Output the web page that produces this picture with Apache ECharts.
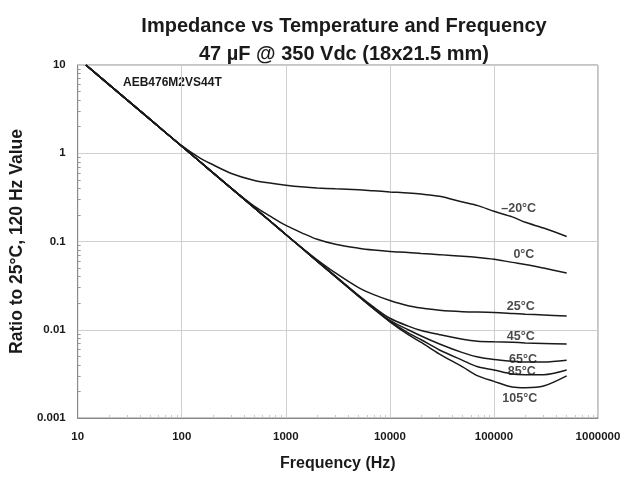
<!DOCTYPE html>
<html><head><meta charset="utf-8">
<script src="https://cdn.jsdelivr.net/npm/echarts@6/dist/echarts.min.js"></script>
<style>html,body{margin:0;padding:0;background:#fff}#c{width:642px;height:477px}</style>
</head><body><div id="c"></div>
<script>
const freq = [12, 20, 50, 100, 150, 200, 300, 500, 700, 1000, 1500, 2000, 3000, 5000, 7000, 10000, 15000, 20000, 30000, 50000, 70000, 100000, 150000, 200000, 300000, 500000];
const tempNames = ['–20°C', '0°C', '25°C', '45°C', '65°C', '85°C', '105°C'];
const vM20 = [10, 6.0, 2.4, 1.22, 0.88, 0.74, 0.59, 0.49, 0.46, 0.435, 0.415, 0.405, 0.395, 0.385, 0.375, 0.365, 0.355, 0.345, 0.325, 0.28, 0.255, 0.22, 0.19, 0.165, 0.142, 0.114];
const v0 = [10, 6.0, 2.4, 1.2, 0.8, 0.6, 0.4, 0.25, 0.195, 0.152, 0.122, 0.106, 0.093, 0.084, 0.08, 0.077, 0.075, 0.073, 0.071, 0.068, 0.066, 0.063, 0.058, 0.055, 0.05, 0.044];
const v25 = [10, 6.0, 2.4, 1.2, 0.8, 0.6, 0.4, 0.24, 0.172, 0.12, 0.081, 0.062, 0.044, 0.03, 0.025, 0.0215, 0.0187, 0.0176, 0.0166, 0.016, 0.0159, 0.0157, 0.0153, 0.015, 0.0147, 0.0143];
const v45 = [10, 6.0, 2.4, 1.2, 0.8, 0.6, 0.4, 0.24, 0.172, 0.12, 0.08, 0.06, 0.0405, 0.0245, 0.018, 0.0135, 0.011, 0.0098, 0.0088, 0.0078, 0.0074, 0.0073, 0.0072, 0.0071, 0.007, 0.0069];
const v65 = [10, 6.0, 2.4, 1.2, 0.8, 0.6, 0.4, 0.24, 0.172, 0.12, 0.08, 0.06, 0.04, 0.024, 0.0174, 0.0128, 0.01, 0.0085, 0.0069, 0.0055, 0.0049, 0.0046, 0.0044, 0.0043, 0.0043, 0.0045];
const v85 = [10, 6.0, 2.4, 1.2, 0.8, 0.6, 0.4, 0.24, 0.172, 0.12, 0.08, 0.06, 0.04, 0.024, 0.0173, 0.0125, 0.0092, 0.0077, 0.0059, 0.0045, 0.0038, 0.0035, 0.00315, 0.0031, 0.0031, 0.0035];
const v105 = [10, 6.0, 2.4, 1.2, 0.8, 0.6, 0.4, 0.24, 0.172, 0.12, 0.08, 0.06, 0.04, 0.024, 0.0172, 0.0123, 0.0088, 0.0072, 0.0053, 0.0038, 0.003, 0.0026, 0.00224, 0.0022, 0.0023, 0.003];
const xTicks = [10, 100, 1000, 10000, 100000, 1000000];
const yTicks = [0.001, 0.01, 0.1, 1, 10];

const allValues = [vM20, v0, v25, v45, v65, v85, v105];
// label anchor positions (data space) for the temperature tags
const tagAnchors = [[173000, 0.236], [194000, 0.0713], [181000, 0.01845], [181000, 0.00845], [190000, 0.00464], [185000, 0.0034], [177000, 0.00168]];

const FONT = '"Liberation Sans", Arial, sans-serif';
const series = allValues.map((vals, k) => ({
  name: tempNames[k], type: 'line', smooth: 0.3, symbol: 'none',
  lineStyle: { color: '#1a1a1a', width: 1.5 },
  data: freq.map((f, i) => [f, vals[i]]),
  z: 3
}));
series.push({
  name: 'tags', type: 'scatter', symbolSize: 0, z: 5,
  data: tagAnchors.map((p, k) => ({ value: p, label: { formatter: tempNames[k] } })),
  label: { show: true, position: 'inside', color: '#1a1a1a', fontFamily: FONT, fontWeight: 'bold', fontSize: 12.5, letterSpacing: -0.5 }
});

const chart = echarts.init(document.getElementById('c'), null, { renderer: 'canvas' });
chart.setOption({
  animation: false,
  backgroundColor: '#fff',
  title: [
    { text: 'Impedance vs Temperature and Frequency', left: 339, top: 11, textAlign: 'center',
      textStyle: { fontFamily: FONT, fontWeight: 'bold', fontSize: 20, color: '#1a1a1a', letterSpacing: -0.5 } },
    { text: '47 µF @ 350 Vdc (18x21.5 mm)', left: 339, top: 39, textAlign: 'center',
      textStyle: { fontFamily: FONT, fontWeight: 'bold', fontSize: 20, color: '#1a1a1a', letterSpacing: -0.5 } }
  ],
  graphic: [
    { type: 'text', left: 123, top: 77, style: { text: 'AEB476M2VS44T', font: 'bold 12px ' + FONT, fill: '#1a1a1a', letterSpacing: 0.8 } }
  ],
  grid: { left: 77, right: 44, top: 65, bottom: 58, show: true, borderColor: '#888', borderWidth: 1 },
  xAxis: {
    type: 'log', logBase: 10, min: xTicks[0], max: xTicks[xTicks.length - 1],
    name: 'Frequency (Hz)', nameLocation: 'middle', nameGap: 38,
    nameTextStyle: { fontFamily: FONT, fontWeight: 'bold', fontSize: 16, color: '#1a1a1a' },
    axisLine: { show: true, lineStyle: { color: '#888' } },
    axisTick: { show: true, inside: true, length: 0 },
    minorTick: { show: true, splitNumber: 9, length: 3, lineStyle: { color: '#c8c8c8' } },
    axisLabel: { fontFamily: FONT, fontWeight: 'bold', fontSize: 11.5, color: '#1a1a1a', margin: 13,
      formatter: v => String(Math.round(v)) },
    splitLine: { show: true, lineStyle: { color: '#cfcfcf', width: 1 } }
  },
  yAxis: {
    type: 'log', logBase: 10, min: yTicks[0], max: yTicks[yTicks.length - 1],
    name: 'Ratio to 25°C, 120 Hz Value', nameLocation: 'middle', nameGap: 48,
    nameTextStyle: { fontFamily: FONT, fontWeight: 'bold', fontSize: 17.5, color: '#1a1a1a' },
    axisLine: { show: true, lineStyle: { color: '#888' } },
    axisTick: { show: true, inside: true, length: 0 },
    minorTick: { show: true, splitNumber: 9, length: 3, lineStyle: { color: '#999' } },
    axisLabel: { fontFamily: FONT, fontWeight: 'bold', fontSize: 11.5, color: '#1a1a1a', margin: 12,
      formatter: v => (v >= 1 ? String(Math.round(v)) : String(+v.toPrecision(1))) },
    splitLine: { show: true, lineStyle: { color: '#cfcfcf', width: 1 } }
  },
  series: series
});
</script></body></html>
